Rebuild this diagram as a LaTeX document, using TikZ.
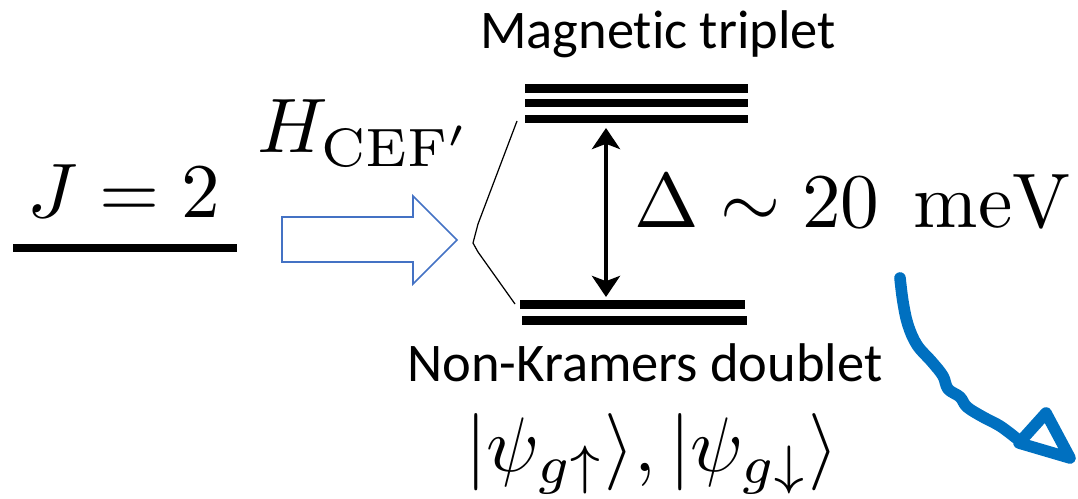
\documentclass[tikz,border=0pt]{standalone}
\usepackage{fontspec}
\newfontfamily\calib[Ligatures=NoCommon]{Carlito}
\usetikzlibrary{arrows.meta}
\definecolor{arrowblue}{RGB}{68,114,196}
\definecolor{curlblue}{RGB}{0,112,192}
\begin{document}
\begin{tikzpicture}[x=0.02cm,y=-0.02cm,
  level/.style={line width=4.8pt},
  mathlbl/.style={inner sep=0pt,scale=4.4},
  txtlbl/.style={inner sep=0pt,font=\calib\fontsize{31}{36}\selectfont},
  split/.style={line width=0.7pt},
  hollow/.style={draw=arrowblue,line width=0.9pt,line join=miter},
  gaparrow/.style={line width=2.4pt,{Stealth[length=12pt,width=16pt,inset=3pt]}-{Stealth[length=12pt,width=16pt,inset=3pt]}},
  squiggle/.style={draw=curlblue,line width=6.6pt,line cap=round,line join=round}]
\useasboundingbox (0,0) rectangle (1078,499);

% J = 2 level
\node[mathlbl,anchor=base] (j) at (124,218) {$J=2$};
\coordinate (jl) at (13,248);
\coordinate (jr) at (237,248);
\draw[level] (jl) -- (jr);

% H_CEF' label
\node[mathlbl,anchor=base west] (h) at (256,153) {$H_{\mathrm{CEF}'}$};

% hollow arrow
\draw[hollow] (282,217) -- (413,217) -- (413,196) -- (457,240) -- (413,284) -- (413,262) -- (282,262) -- cycle;

% splitting lines
\coordinate (v) at (473,243);
\coordinate (vu) at (478,224);
\coordinate (vd) at (478,252);
\coordinate (tu) at (517,121);
\coordinate (dl) at (515,304);
\draw[split] (tu) -- (vu) -- (v) -- (vd) -- (dl);

% triplet levels
\coordinate (t1l) at (525,88.5);  \coordinate (t1r) at (748,88.5);
\coordinate (t2l) at (525,103);   \coordinate (t2r) at (748,103);
\coordinate (t3l) at (525,119);   \coordinate (t3r) at (748,119);
\draw[level] (t1l) -- (t1r);
\draw[level] (t2l) -- (t2r);
\draw[level] (t3l) -- (t3r);

% doublet levels
\coordinate (d1l) at (520,304.5); \coordinate (d1r) at (745,304.5);
\coordinate (d2l) at (522,320.5); \coordinate (d2r) at (747,320.5);
\draw[level] (d1l) -- (d1r);
\draw[level] (d2l) -- (d2r);

% gap arrow
\coordinate (ga) at (606,128);
\coordinate (gb) at (606,297);
\draw[gaparrow] (ga) -- (gb);

% gap label
\node[mathlbl,anchor=base west] (delta) at (633,228) {$\Delta\sim 20\;\,\mathrm{meV}$};

% text labels
\node[txtlbl,anchor=base] (mt) at (658,49) {Magnetic triplet};
\node[txtlbl,anchor=base] (nk) at (645,382) {Non-Kramers doublet};
\node[mathlbl,anchor=base] (psi) at (652,472) {$|\psi_{g\uparrow}\rangle,|\psi_{g\downarrow}\rangle$};

% blue curly arrow
\draw[squiggle] plot[smooth,tension=0.6] coordinates {(900,278) (903,302) (908,325) (917,345) (932,362) (943,376) (948,389) (960,397) (967,407) (983,417) (1000,426) (1016,438)};
\draw[squiggle] (1046,413) -- (1070,458) -- (1019,443) -- cycle;
\end{tikzpicture}
\end{document}
